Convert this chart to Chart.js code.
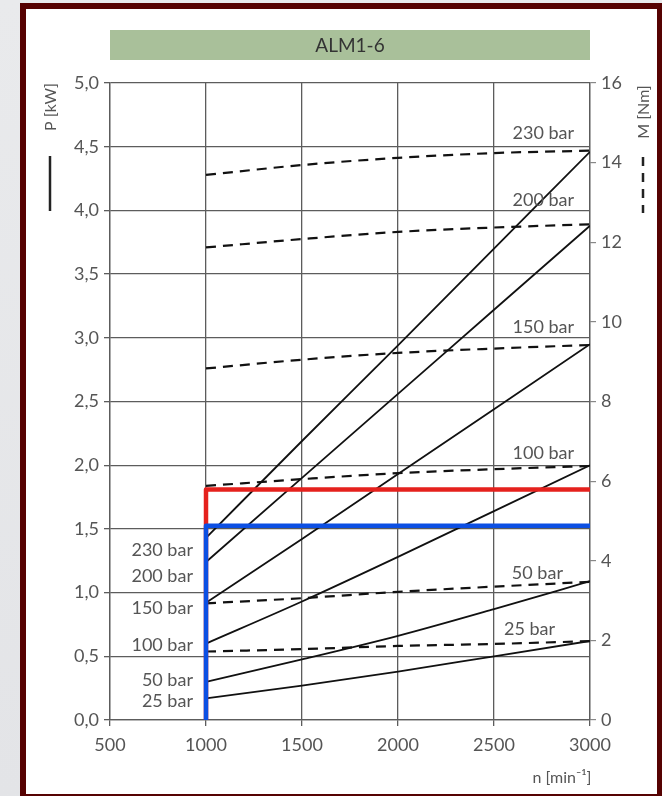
<!DOCTYPE html>
<html><head><meta charset="utf-8">
<script src="https://cdn.jsdelivr.net/npm/chart.js@4/dist/chart.umd.min.js"></script>
<style>
html,body{margin:0;padding:0;width:662px;height:796px;overflow:hidden;background:linear-gradient(180deg,#e9eaec,#e3e4e7);}
#frame{position:absolute;left:20px;top:3px;width:643px;height:797px;box-sizing:border-box;border:6px solid #560202;background:#fff;}
#c{position:absolute;left:0;top:0;}
</style></head><body>
<div id="frame"></div>
<canvas id="c" width="662" height="796"></canvas>
<script>
// ---- data ----
const title = 'ALM1-6';
const speeds = [1000, 1500, 2000, 2500, 3000];
const pressures = ['230 bar', '200 bar', '150 bar', '100 bar', '50 bar', '25 bar'];
// power P [kW] (solid lines, left axis)
const power230 = [1.43, 2.19, 2.94, 3.70, 4.46];
const power200 = [1.24, 1.90, 2.56, 3.22, 3.88];
const power150 = [0.92, 1.42, 1.93, 2.44, 2.95];
const power100 = [0.60, 0.93, 1.28, 1.64, 2.00];
const power50  = [0.30, 0.475, 0.66, 0.87, 1.09];
const power25  = [0.17, 0.27, 0.38, 0.50, 0.62];
// torque M [Nm] (dashed lines, right axis)
const torque230 = [13.69, 13.94, 14.12, 14.24, 14.30];
const torque200 = [11.87, 12.08, 12.26, 12.37, 12.45];
const torque150 = [8.83, 9.05, 9.22, 9.33, 9.42];
const torque100 = [5.88, 6.05, 6.20, 6.30, 6.38];
const torque50  = [2.93, 3.06, 3.22, 3.35, 3.47];
const torque25  = [1.72, 1.78, 1.86, 1.91, 1.98];
// operating points (speed, power)
const opSpeed = 1000, opSpeedEnd = 3000;
const redPower = 1.81;
const bluePower = 1.525;
// tick labels
const xTicks = [500, 1000, 1500, 2000, 2500, 3000];
const pTicks = ['0,0','0,5','1,0','1,5','2,0','2,5','3,0','3,5','4,0','4,5','5,0'];
const mTicks = [0, 2, 4, 6, 8, 10, 12, 14, 16];
const xTitle = 'n [min\u207B\u00B9]';
const pTitle = 'P [kW]';
const mTitle = 'M [Nm]';

const powers = [power230, power200, power150, power100, power50, power25];
const torques = [torque230, torque200, torque150, torque100, torque50, torque25];
// label anchors in data units: right-side labels (n, M), left-side labels (n, P)
const rightLabelAt = [[2917,14.74],[2917,13.06],[2917,9.87],[2917,6.71],[2859,3.70],[2818,2.29]];
const leftLabelAt  = [[932,1.33],[932,1.13],[932,0.877],[932,0.589],[932,0.314],[932,0.151]];

const FONT = 'Lato, "Open Sans", sans-serif';
const GRID = '#5c5c5c';
const TXT = '#555';

const pts = (xs, ys) => xs.map((x, i) => ({x, y: ys[i]}));
const datasets = [];
powers.forEach((p, i) => datasets.push({
  label: 'P ' + pressures[i], data: pts(speeds, p), yAxisID: 'y',
  borderColor: '#111', borderWidth: 1.8, pointRadius: 0, cubicInterpolationMode: 'monotone', order: 3
}));
torques.forEach((m, i) => datasets.push({
  label: 'M ' + pressures[i], data: pts(speeds, m), yAxisID: 'y2',
  borderColor: '#111', borderWidth: 2.2, borderDash: [10, 7], pointRadius: 0, cubicInterpolationMode: 'monotone', order: 3
}));
datasets.push({label: 'red', data: [{x: opSpeed, y: 0}, {x: opSpeed, y: redPower}, {x: opSpeedEnd, y: redPower}],
  yAxisID: 'y', borderColor: '#e5211d', borderWidth: 4.5, pointRadius: 0, borderJoinStyle: 'round', borderCapStyle: 'butt', tension: 0, order: 2});
datasets.push({label: 'blue', data: [{x: opSpeed, y: 0}, {x: opSpeed, y: bluePower}, {x: opSpeedEnd, y: bluePower}],
  yAxisID: 'y', borderColor: '#0c4fe3', borderWidth: 4.5, pointRadius: 0, borderJoinStyle: 'round', borderCapStyle: 'butt', tension: 0, order: 1});

const decor = {
  id: 'decor',
  afterDraw(chart) {
    const {ctx, scales: {x, y, y2}} = chart;
    ctx.save();
    // title bar
    ctx.fillStyle = '#a9c09a';
    ctx.fillRect(x.left, 30, x.right - x.left, 30);
    ctx.fillStyle = '#333';
    ctx.font = '19px ' + FONT;
    ctx.textAlign = 'center'; ctx.textBaseline = 'middle';
    ctx.fillText(title, (x.left + x.right) / 2, 46);
    // pressure labels
    ctx.fillStyle = TXT;
    ctx.font = '18px ' + FONT;
    ctx.textAlign = 'right';
    pressures.forEach((lab, i) => {
      const r = rightLabelAt[i];
      ctx.fillText(lab, x.getPixelForValue(r[0]), y2.getPixelForValue(r[1]));
      const l = leftLabelAt[i];
      ctx.fillText(lab, x.getPixelForValue(l[0]), y.getPixelForValue(l[1]));
    });
    // axis titles
    ctx.font = '16px ' + FONT;
    ctx.textAlign = 'center';
    ctx.fillText(xTitle, 562, 778);
    ctx.save(); ctx.translate(51, 107); ctx.rotate(-Math.PI / 2); ctx.fillText(pTitle, 0, 0); ctx.restore();
    ctx.save(); ctx.translate(644, 112); ctx.rotate(-Math.PI / 2); ctx.fillText(mTitle, 0, 0); ctx.restore();
    // legend strokes
    ctx.strokeStyle = '#222'; ctx.lineWidth = 2.5;
    ctx.beginPath(); ctx.moveTo(50, 156); ctx.lineTo(50, 211); ctx.stroke();
    ctx.setLineDash([9, 7]);
    ctx.beginPath(); ctx.moveTo(643, 157); ctx.lineTo(643, 213); ctx.stroke();
    ctx.restore();
  }
};

Chart.defaults.font.family = FONT;
new Chart(document.getElementById('c'), {
  type: 'line',
  data: {datasets},
  options: {
    responsive: false, animation: false,
    layout: {padding: {top: 83, left: 0, right: 0, bottom: 0}},
    plugins: {legend: {display: false}, tooltip: {enabled: false}},
    scales: {
      x: {
        type: 'linear', min: xTicks[0], max: xTicks[xTicks.length - 1],
        afterBuildTicks: s => { s.ticks = xTicks.map(v => ({value: v})); },
        afterFit: s => { s.height = 76; },
        ticks: {color: TXT, font: {size: 18}, padding: 8, callback: v => String(v), maxRotation: 0},
        grid: {color: GRID, lineWidth: 1.3, tickLength: 6},
        border: {color: GRID, width: 1.3}
      },
      y: {
        type: 'linear', position: 'left', min: 0, max: 5,
        afterBuildTicks: s => { s.ticks = pTicks.map((t, i) => ({value: i * 0.5})); },
        afterFit: s => { s.width = 110; },
        ticks: {color: TXT, font: {size: 18}, padding: 5, callback: (v, i) => pTicks[i]},
        grid: {color: GRID, lineWidth: 1.3, tickLength: 6},
        border: {color: GRID, width: 1.3}
      },
      y2: {
        type: 'linear', position: 'right', min: 0, max: 16,
        afterBuildTicks: s => { s.ticks = mTicks.map(v => ({value: v})); },
        afterFit: s => { s.width = 72; },
        ticks: {color: TXT, font: {size: 18}, padding: 5, callback: v => String(v)},
        grid: {drawOnChartArea: false, color: '#888', lineWidth: 1.2, tickLength: 6},
        border: {color: GRID, width: 1.3}
      }
    }
  },
  plugins: [decor]
});
</script>
</body></html>
